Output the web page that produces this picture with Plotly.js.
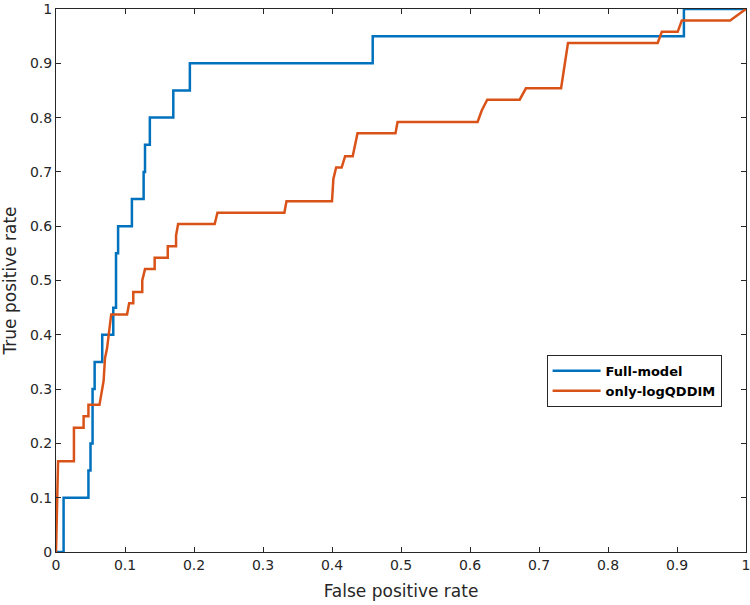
<!DOCTYPE html>
<html>
<head>
<meta charset="utf-8">
<script src="https://cdn.plot.ly/plotly-3.0.1.min.js"></script>
<style>html,body{margin:0;padding:0;background:#fff;}#chart{width:750px;height:605px;}</style>
</head>
<body>
<div id="chart"></div>
<script>
// Full-model ROC curve (FPR, TPR)
const fullModelFPR = [0,0.011,0.011,0.047,0.047,0.050,0.050,0.053,0.053,0.056,0.056,0.067,0.067,0.083,0.083,0.087,0.087,0.090,0.090,0.110,0.110,0.127,0.127,0.129,0.129,0.136,0.136,0.170,0.170,0.194,0.194,0.459,0.459,0.910,0.910,1];
const fullModelTPR = [0,0,0.1,0.1,0.15,0.15,0.2,0.2,0.3,0.3,0.35,0.35,0.4,0.4,0.45,0.45,0.55,0.55,0.6,0.6,0.65,0.65,0.70,0.70,0.75,0.75,0.8,0.8,0.85,0.85,0.9,0.9,0.95,0.95,1,1];
// only-logQDDIM ROC curve (FPR, TPR)
const logQddimFPR = [0,0.003,0.026,0.026,0.040,0.040,0.047,0.047,0.063,0.066,0.069,0.071,0.074,0.080,0.103,0.106,0.112,0.112,0.125,0.125,0.129,0.143,0.143,0.162,0.162,0.174,0.174,0.177,0.230,0.234,0.331,0.334,0.400,0.402,0.406,0.414,0.419,0.430,0.437,0.492,0.495,0.611,0.617,0.625,0.672,0.681,0.732,0.742,0.872,0.878,0.901,0.907,0.977,1];
const logQddimTPR = [0,0.167,0.167,0.229,0.229,0.25,0.25,0.271,0.271,0.292,0.315,0.357,0.375,0.4375,0.4375,0.458,0.458,0.479,0.479,0.5,0.521,0.521,0.542,0.542,0.563,0.563,0.583,0.604,0.604,0.625,0.625,0.646,0.646,0.687,0.708,0.708,0.729,0.729,0.771,0.771,0.792,0.792,0.813,0.833,0.833,0.854,0.854,0.9375,0.9375,0.958,0.958,0.979,0.979,1];
const tickValues = [0,0.1,0.2,0.3,0.4,0.5,0.6,0.7,0.8,0.9,1];
const tickLabels = ['0','0.1','0.2','0.3','0.4','0.5','0.6','0.7','0.8','0.9','1'];
const seriesNames = ['Full-model','only-logQDDIM'];

const FONT = '"DejaVu Sans", sans-serif';
const AX = '#262626';
const axisCommon = {
  range:[0,1], tickmode:'array', tickvals:tickValues, ticktext:tickLabels,
  ticks:'inside', ticklen:5, tickwidth:1, tickcolor:AX,
  showline:true, linecolor:AX, linewidth:1, mirror:'ticks',
  showgrid:false, zeroline:false, fixedrange:true,
  ticklabeloverflow:'allow',
  tickfont:{family:FONT, size:14, color:AX}
};
const data = [
  {x:fullModelFPR, y:fullModelTPR, type:'scatter', mode:'lines', name:seriesNames[0], line:{color:'#0072BD', width:2.5}},
  {x:logQddimFPR, y:logQddimTPR, type:'scatter', mode:'lines', name:seriesNames[1], line:{color:'#D95319', width:2.5}}
];
const layout = {
  width:750, height:605,
  margin:{l:56, r:4, t:9, b:53},
  paper_bgcolor:'#fff', plot_bgcolor:'#fff',
  font:{family:FONT, color:AX},
  xaxis:Object.assign({}, axisCommon, {title:{text:'False positive rate', font:{family:FONT, size:17, color:AX}, standoff:13}}),
  yaxis:Object.assign({}, axisCommon, {title:{text:'True positive rate', font:{family:FONT, size:17, color:AX}, standoff:8}}),
  showlegend:true,
  legend:{x:0.711, y:0.363, xanchor:'left', yanchor:'top', bgcolor:'#fff', bordercolor:AX, borderwidth:1,
    font:{family:FONT, size:13, color:'#000', weight:'bold'}, tracegroupgap:0, itemwidth:48}
};
Plotly.newPlot('chart', data, layout, {displayModeBar:false, staticPlot:true});
</script>
</body>
</html>
